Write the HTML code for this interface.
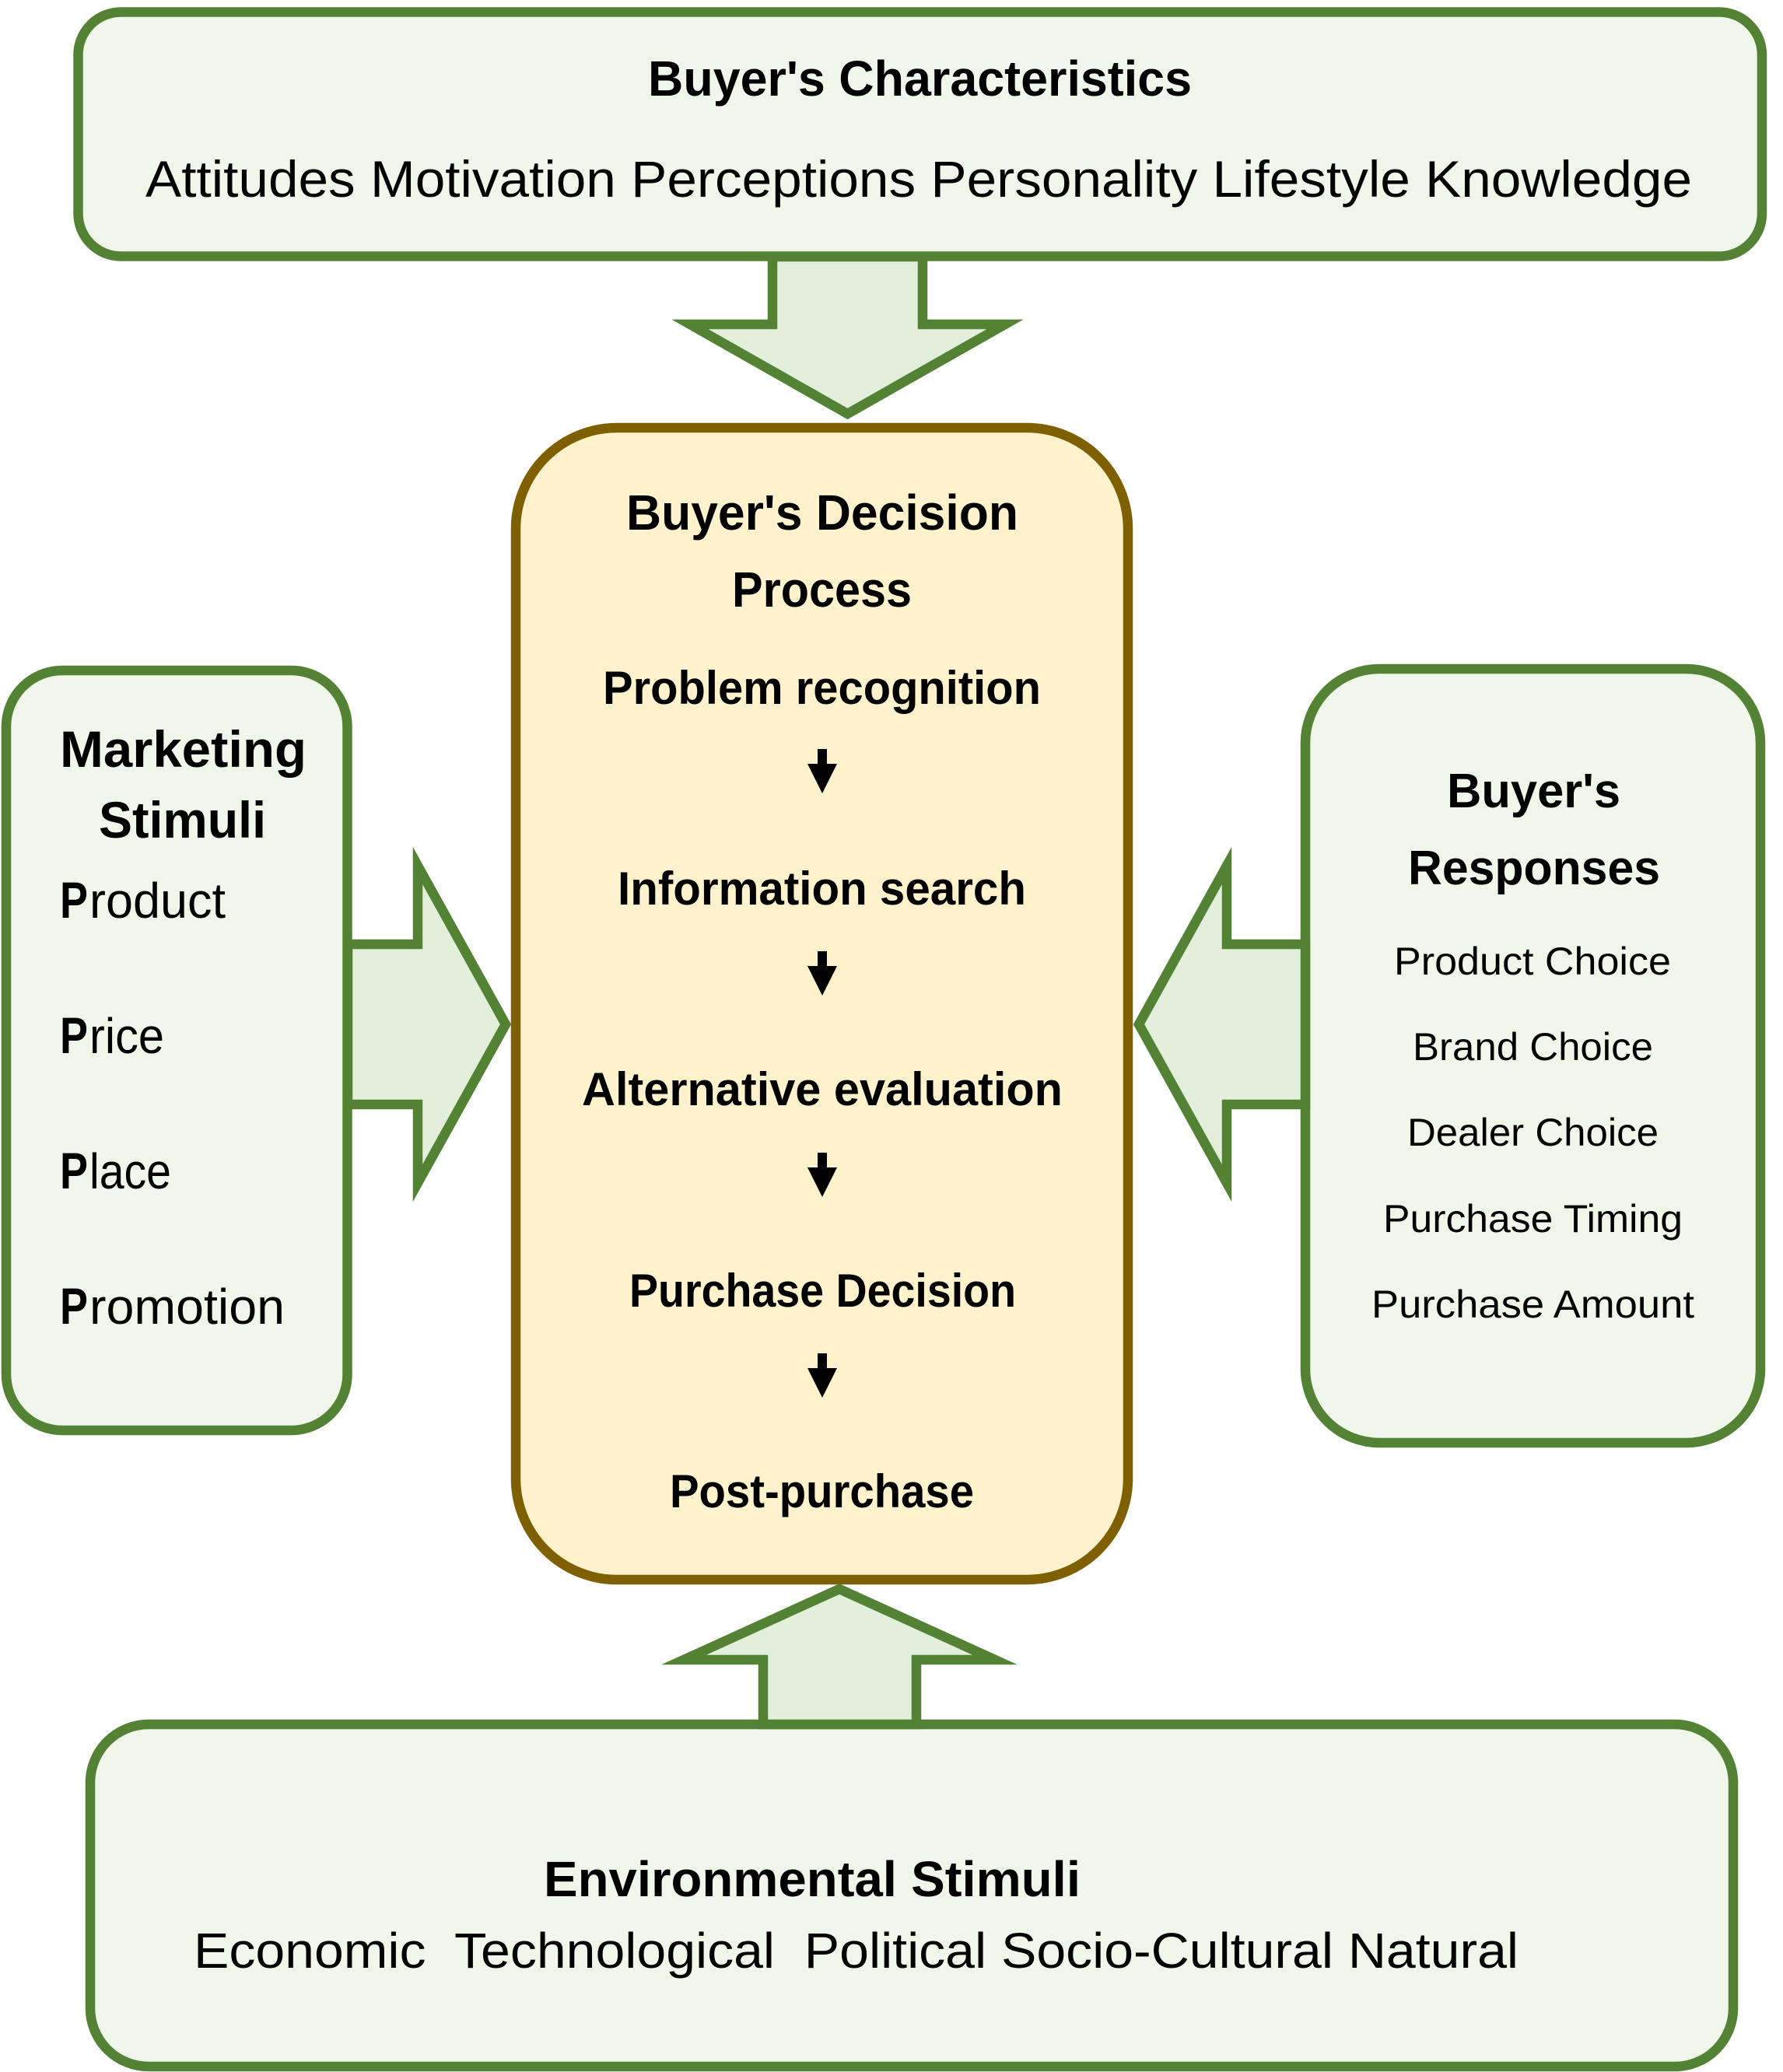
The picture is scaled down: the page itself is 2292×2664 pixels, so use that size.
<!DOCTYPE html>
<html>
<head>
<meta charset="utf-8">
<style>
  html, body { margin: 0; padding: 0; background: #ffffff; }
  svg { display: block; }
  text { font-family: "Liberation Sans", "DejaVu Sans", sans-serif; fill: #000; }
  .b { font-weight: bold; }
</style>
</head>
<body>
<svg width="2292" height="2664" viewBox="0 0 2292 2664" xmlns="http://www.w3.org/2000/svg">
  <rect x="0" y="0" width="2292" height="2664" fill="#ffffff"/>

  <!-- Top box: Buyer's Characteristics -->
  <rect x="100.5" y="15.5" width="2164.5" height="314" rx="55" ry="55" fill="#f0f6ea" stroke="#548235" stroke-width="12.5"/>
  <text class="b" x="833" y="123" font-size="64" textLength="699" lengthAdjust="spacingAndGlyphs">Buyer's Characteristics</text>
  <text x="187" y="253" font-size="66" textLength="1988" lengthAdjust="spacingAndGlyphs">Attitudes Motivation Perceptions Personality Lifestyle Knowledge</text>

  <!-- Center box: Decision process -->
  <rect x="663" y="550" width="787" height="1481" rx="130" ry="130" fill="#fff2cc" stroke="#7f6000" stroke-width="12.5"/>
  <text class="b" x="805" y="681" font-size="64" textLength="504" lengthAdjust="spacingAndGlyphs">Buyer's Decision</text>
  <text class="b" x="941" y="780" font-size="64" textLength="231" lengthAdjust="spacingAndGlyphs">Process</text>
  <text class="b" x="775" y="905" font-size="60" textLength="563" lengthAdjust="spacingAndGlyphs">Problem recognition</text>
  <text class="b" x="794" y="1163" font-size="60" textLength="525" lengthAdjust="spacingAndGlyphs">Information search</text>
  <text class="b" x="748" y="1421" font-size="60" textLength="618" lengthAdjust="spacingAndGlyphs">Alternative evaluation</text>
  <text class="b" x="809" y="1680" font-size="60" textLength="497" lengthAdjust="spacingAndGlyphs">Purchase Decision</text>
  <text class="b" x="861" y="1938" font-size="60" textLength="391" lengthAdjust="spacingAndGlyphs">Post-purchase</text>

  <!-- small black arrows -->
  <g fill="#000">
    <polygon points="1051,963 1063,963 1063,982 1076,982 1057,1020 1038,982 1051,982"/>
    <polygon points="1051,1223 1063,1223 1063,1242 1076,1242 1057,1280 1038,1242 1051,1242"/>
    <polygon points="1051,1482 1063,1482 1063,1501 1076,1501 1057,1539 1038,1501 1051,1501"/>
    <polygon points="1051,1740 1063,1740 1063,1759 1076,1759 1057,1797 1038,1759 1051,1759"/>
  </g>

  <!-- Left box: Marketing Stimuli -->
  <rect x="8" y="862" width="438.5" height="977" rx="72" ry="72" fill="#f0f6ea" stroke="#548235" stroke-width="12.5"/>
  <text class="b" x="77" y="986" font-size="66" textLength="317" lengthAdjust="spacingAndGlyphs">Marketing</text>
  <text class="b" x="127" y="1077" font-size="66" textLength="215" lengthAdjust="spacingAndGlyphs">Stimuli</text>

  <text class="b" x="77" y="1180" font-size="66" textLength="36" lengthAdjust="spacingAndGlyphs">P</text>
  <text x="115" y="1180" font-size="64" textLength="175" lengthAdjust="spacingAndGlyphs">roduct</text>

  <text class="b" x="77" y="1354" font-size="66" textLength="36" lengthAdjust="spacingAndGlyphs">P</text>
  <text x="115" y="1354" font-size="64" textLength="96" lengthAdjust="spacingAndGlyphs">rice</text>

  <text class="b" x="77" y="1528" font-size="66" textLength="36" lengthAdjust="spacingAndGlyphs">P</text>
  <text x="115" y="1528" font-size="64" textLength="105" lengthAdjust="spacingAndGlyphs">lace</text>

  <text class="b" x="77" y="1702" font-size="66" textLength="36" lengthAdjust="spacingAndGlyphs">P</text>
  <text x="115" y="1702" font-size="64" textLength="251" lengthAdjust="spacingAndGlyphs">romotion</text>

  <!-- Right box: Buyer's Responses -->
  <rect x="1678" y="860" width="585" height="995" rx="95" ry="95" fill="#f0f6ea" stroke="#548235" stroke-width="12.5"/>
  <text class="b" x="1860" y="1038" font-size="62" textLength="223" lengthAdjust="spacingAndGlyphs">Buyer's</text>
  <text class="b" x="1810" y="1137" font-size="62" textLength="324" lengthAdjust="spacingAndGlyphs">Responses</text>
  <text x="1792" y="1253" font-size="50" textLength="356" lengthAdjust="spacingAndGlyphs">Product Choice</text>
  <text x="1816" y="1363" font-size="50" textLength="309" lengthAdjust="spacingAndGlyphs">Brand Choice</text>
  <text x="1809" y="1473" font-size="50" textLength="323" lengthAdjust="spacingAndGlyphs">Dealer Choice</text>
  <text x="1778" y="1584" font-size="50" textLength="385" lengthAdjust="spacingAndGlyphs">Purchase Timing</text>
  <text x="1763" y="1694" font-size="50" textLength="415" lengthAdjust="spacingAndGlyphs">Purchase Amount</text>

  <!-- Bottom box: Environmental Stimuli -->
  <rect x="116" y="2217" width="2112" height="440" rx="75" ry="75" fill="#f0f6ea" stroke="#548235" stroke-width="12.5"/>
  <text class="b" x="699" y="2438" font-size="64" textLength="690" lengthAdjust="spacingAndGlyphs">Environmental Stimuli</text>
  <text x="249" y="2530" font-size="64" textLength="1703" lengthAdjust="spacingAndGlyphs" style="white-space:pre">Economic  Technological  Political Socio-Cultural Natural</text>

  <!-- Block arrows -->
  <g fill="#e2efda" stroke="#548235" stroke-width="12.5" stroke-linejoin="miter" stroke-miterlimit="10">
    <!-- top, pointing down -->
    <polygon points="993,330 993,417 887,417 1089.5,532 1292,417 1186,417 1186,330"/>
    <!-- bottom, pointing up -->
    <polygon points="981,2217 981,2134 879,2134 1079,2043 1279,2134 1178,2134 1178,2217"/>
    <!-- left, pointing right -->
    <polygon points="447,1214 537,1214 537,1113 650,1317 537,1521 537,1420 447,1420"/>
    <!-- right, pointing left -->
    <polygon points="1678,1214 1577,1214 1577,1113 1464,1317 1577,1521 1577,1420 1678,1420"/>
  </g>
</svg>
</body>
</html>
